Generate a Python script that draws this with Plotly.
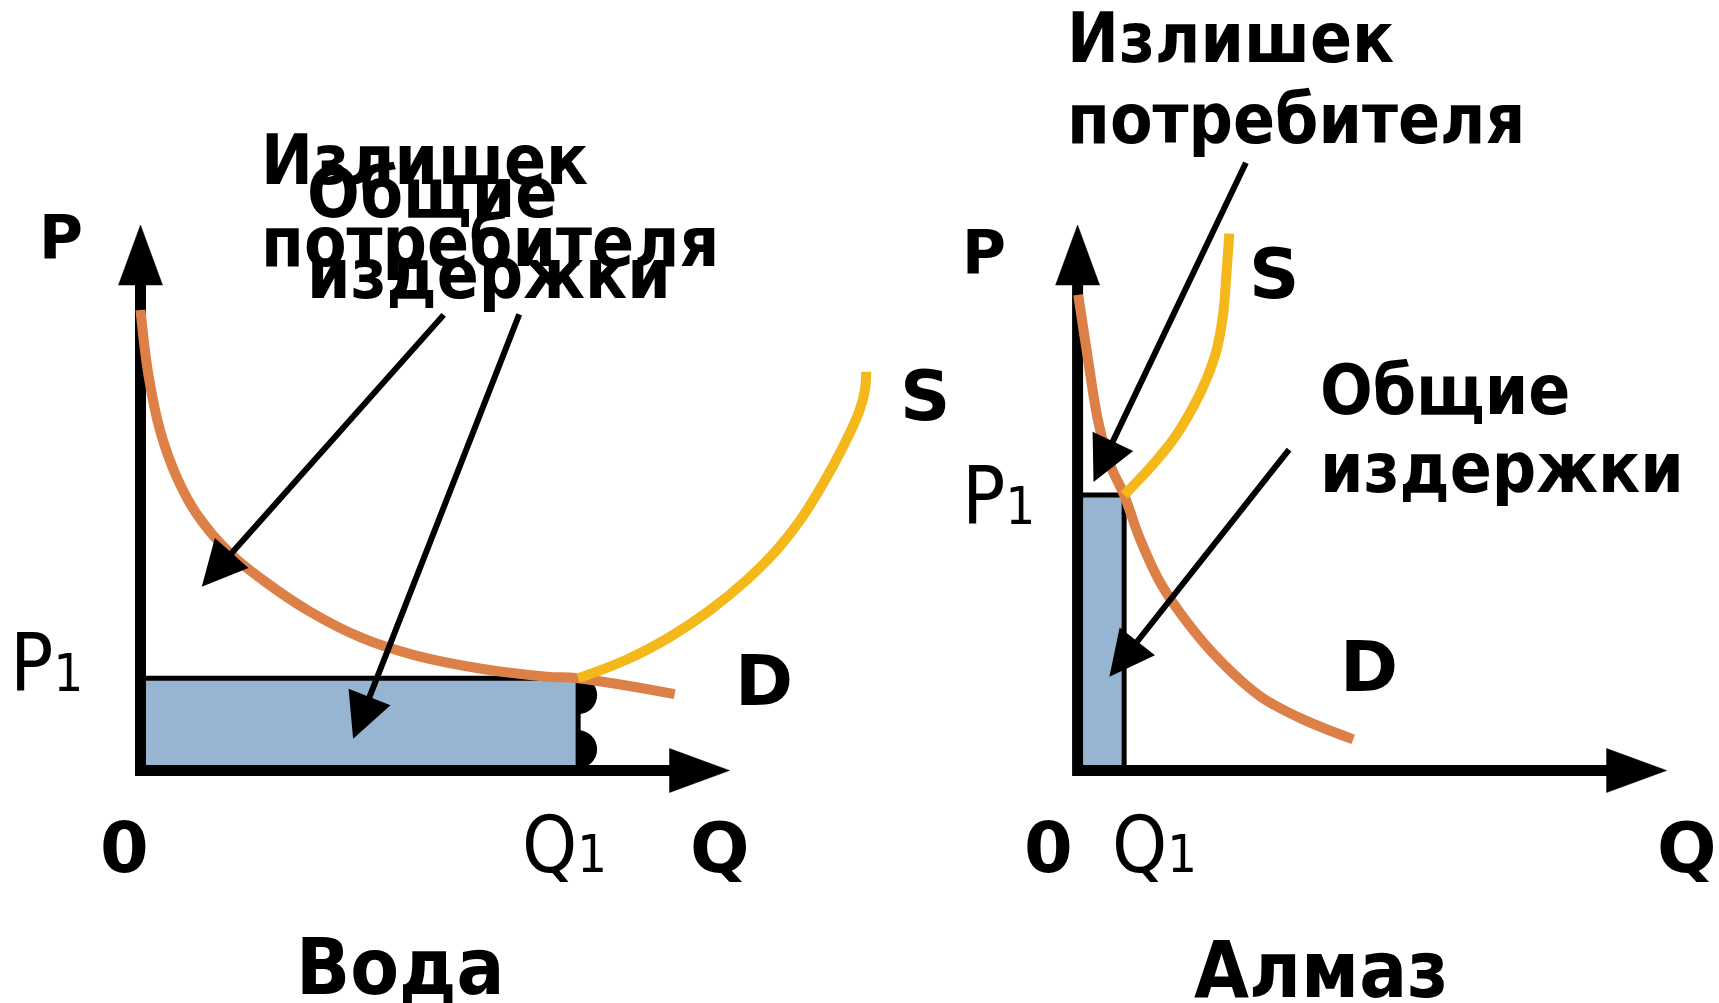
import plotly.graph_objects as go

# ---------------- data (Q and P in units where each axis arrow = 100) ----------------
water_demand_q = [0, 1.3, 3.3, 6.1, 9.5, 15.2, 20.8, 28.8, 37.8, 46.3, 57.6, 69.0, 74.3, 90.7]
water_demand_p = [84.4, 72.8, 62.4, 53.9, 47.1, 39.8, 34.9, 29.1, 24.2, 21.2, 18.7, 17.2, 16.9, 14.0]
water_supply_q = [74.3, 82.5, 89.9, 96.7, 102.9, 108.0, 112.0, 115.9, 119.3, 121.9, 123.0, 123.2]
water_supply_p = [16.9, 20.3, 24.5, 29.4, 34.9, 40.4, 45.9, 52.6, 59.4, 65.5, 69.8, 73.1]
water_q1 = 74.3
water_p1 = 16.9
water_bumps_p = [13.8, 3.9]
water_arrow_tail_q = [51.7, 64.4]
water_arrow_tail_p = [83.8, 83.9]
water_arrow_tip_q = [10.4, 36.1]
water_arrow_tip_p = [33.7, 5.8]

diamond_demand_q = [0.1, 1.8, 3.5, 5.5, 7.9, 10.6, 14.0, 18.5, 24.2, 31.0, 37.8, 46.8]
diamond_demand_p = [87.2, 75.1, 64.0, 56.1, 50.5, 42.4, 34.5, 27.3, 20.1, 13.6, 9.6, 5.7]
diamond_supply_q = [7.9, 12.3, 16.25, 19.6, 21.9, 23.6, 24.7, 25.3, 25.76]
diamond_supply_p = [50.5, 55.5, 60.7, 66.6, 71.8, 77.1, 83.6, 91.5, 98.4]
diamond_q1 = 7.9
diamond_p1 = 50.5
diamond_arrow_tail_q = [28.7, 36.1]
diamond_arrow_tail_p = [111.7, 59.1]
diamond_arrow_tip_q = [2.7, 5.4]
diamond_arrow_tip_p = [52.9, 17.2]

axis_length = 100

label_surplus = ["Излишек", "потребителя"]
label_cost = ["Общие", "издержки"]
label_titles = ["Вода", "Алмаз"]

# ---------------- layout constants (pixels) ----------------
W, H = 1719, 1003
LEFT_OX = 140.5
RIGHT_OX = 1077.6
OY = 770.5
PX_Q = 5.89
PX_P = 5.455
HEAD_LEN = 60
HEAD_HALF = 22

ORANGE = "#DD8048"
YELLOW = "#F5B81A"
RECT_FILL = "#95B5D3"
FONT_C = "DejaVu Sans Condensed, DejaVu Sans"
FONT_N = "DejaVu Sans"

fig = go.Figure()


def add_panel(xa, ya, dq, dp, sq, sp, q1, p1, bumps):
    common = dict(xaxis=xa, yaxis=ya, showlegend=False, hoverinfo="skip", cliponaxis=False)
    if bumps:
        fig.add_trace(go.Scatter(x=[q1] * len(bumps), y=bumps, mode="markers",
                                 marker=dict(size=38, color="black", line=dict(width=0)), **common))
    fig.add_trace(go.Scatter(x=[0, q1, q1, 0, 0], y=[0, 0, p1, p1, 0], mode="lines",
                             fill="toself", fillcolor=RECT_FILL,
                             line=dict(color="black", width=5), **common))
    hq = HEAD_LEN / PX_Q
    hp = HEAD_LEN / PX_P
    wq = HEAD_HALF / PX_Q
    wp = HEAD_HALF / PX_P
    fig.add_trace(go.Scatter(x=[0, 0, axis_length - hq * 0.6], y=[axis_length - hp * 0.6, 0, 0],
                             mode="lines", line=dict(color="black", width=11), **common))
    fig.add_trace(go.Scatter(
        x=[-wq, wq, 0, -wq, None, axis_length - hq, axis_length - hq, axis_length, axis_length - hq],
        y=[axis_length - hp, axis_length - hp, axis_length, axis_length - hp, None, -wp, wp, 0, -wp],
        mode="lines", fill="toself", fillcolor="black", line=dict(color="black", width=0.5), **common))
    fig.add_trace(go.Scatter(x=dq, y=dp, mode="lines", line=dict(color=ORANGE, width=10, shape="spline"), **common))
    fig.add_trace(go.Scatter(x=sq, y=sp, mode="lines", line=dict(color=YELLOW, width=10, shape="spline"), **common))


add_panel("x", "y", water_demand_q, water_demand_p, water_supply_q, water_supply_p,
          water_q1, water_p1, water_bumps_p)
add_panel("x2", "y2", diamond_demand_q, diamond_demand_p, diamond_supply_q, diamond_supply_p,
          diamond_q1, diamond_p1, [])

annotations = []
for xr, yr, tq, tp, hq_, hp_ in [
    ("x", "y", water_arrow_tail_q, water_arrow_tail_p, water_arrow_tip_q, water_arrow_tip_p),
    ("x2", "y2", diamond_arrow_tail_q, diamond_arrow_tail_p, diamond_arrow_tip_q, diamond_arrow_tip_p),
]:
    for a, b, c, d in zip(tq, tp, hq_, hp_):
        annotations.append(dict(x=c, y=d, ax=a, ay=b, xref=xr, yref=yr, axref=xr, ayref=yr,
                                text="", showarrow=True, arrowhead=2, arrowsize=1.5,
                                arrowwidth=6, arrowcolor="black"))


def txt(text, x, baseline, size, bold=True, anchor="center", family=FONT_C):
    yc = baseline - 0.346 * size
    t = f"<b>{text}</b>" if bold else text
    annotations.append(dict(text=t, x=x / W, y=1 - yc / H, xref="paper", yref="paper",
                            xanchor=anchor, yanchor="middle", showarrow=False,
                            font=dict(family=family, size=size, color="black")))


def sub(main, idx, size_idx):
    return f"{main}<span style='font-size:{size_idx}px'>{idx}</span>"


# left panel texts
txt(label_surplus[0], 259, 184, 69, anchor="left")
txt(label_surplus[1], 259, 266, 69, anchor="left")
txt(label_cost[0], 305, 217, 69, anchor="left")
txt(label_cost[1], 305, 298, 69, anchor="left")
txt("P", 61, 258, 60, family=FONT_N)
txt("S", 925, 420, 70, family=FONT_N)
txt("D", 764, 705, 70, family=FONT_N)
txt("0", 124, 872, 70, family=FONT_N)
txt("Q", 720, 872, 70, family=FONT_N)
txt(sub("P", "1", 52), 46, 691, 80, bold=False)
txt(sub("Q", "1", 52), 564, 872, 78, bold=False)
txt(label_titles[0], 400, 994, 79)

# right panel texts
txt(label_surplus[0], 1065, 62, 69, anchor="left")
txt(label_surplus[1], 1065, 143, 69, anchor="left")
txt(label_cost[0], 1318, 414, 69, anchor="left")
txt(label_cost[1], 1318, 492, 69, anchor="left")
txt("P", 984, 273, 60, family=FONT_N)
txt("S", 1274, 298, 70, family=FONT_N)
txt("D", 1369, 691, 70, family=FONT_N)
txt("0", 1048, 872, 70, family=FONT_N)
txt("Q", 1687, 872, 70, family=FONT_N)
txt(sub("P", "1", 52), 998, 524, 80, bold=False)
txt(sub("Q", "1", 52), 1154, 872, 78, bold=False)
txt(label_titles[1], 1321, 997, 79)

yr = [-(H - OY) / PX_P, OY / PX_P]
hidden = dict(visible=False, showgrid=False, zeroline=False, fixedrange=True)
fig.update_layout(
    width=W, height=H, margin=dict(l=0, r=0, t=0, b=0),
    paper_bgcolor="white", plot_bgcolor="rgba(0,0,0,0)",
    xaxis=dict(domain=[0, 1], range=[-LEFT_OX / PX_Q, (W - LEFT_OX) / PX_Q], anchor="y", **hidden),
    yaxis=dict(domain=[0, 1], range=yr, anchor="x", **hidden),
    xaxis2=dict(domain=[0, 1], range=[-RIGHT_OX / PX_Q, (W - RIGHT_OX) / PX_Q], anchor="y2",
                overlaying="x", **hidden),
    yaxis2=dict(domain=[0, 1], range=yr, anchor="x2", overlaying="y", **hidden),
    annotations=annotations,
    showlegend=False,
)

fig.write_html("out.html", config={"displayModeBar": False},
               post_script="document.body.style.margin='0';document.body.style.overflow='hidden';")
